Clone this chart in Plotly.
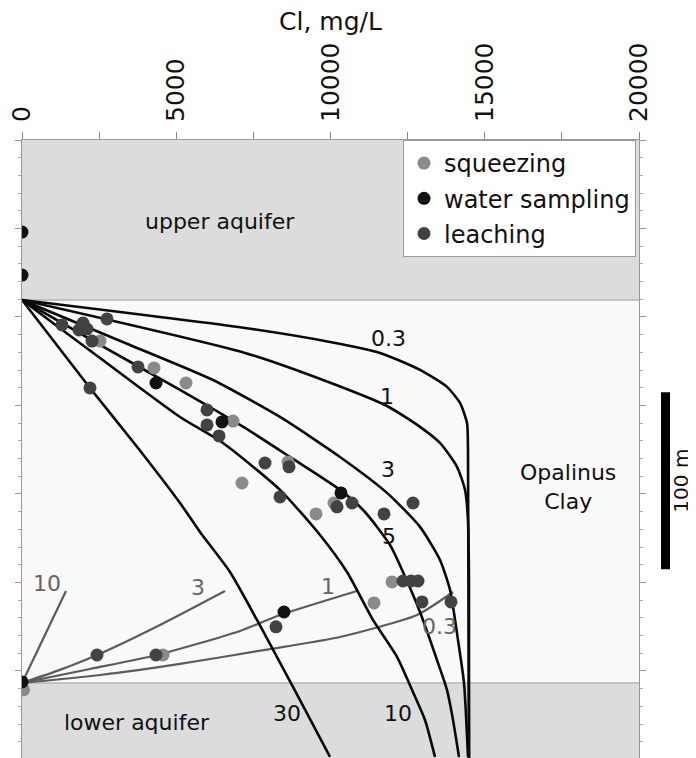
import plotly.graph_objects as go

# chloride profiles through the Opalinus Clay
# x = Cl in mg/L, y = depth in m (0 = top of plot)

# layer boundaries (m)
top_clay = 90.4
base_clay = 306.8
depth_max = 349.2

# x tick labels
cl_ticks = [0, 5000, 10000, 15000, 20000]
cl_ticktext = ["0", "5000", "10000", "15000", "20000"]

# measured data
squeeze_cl = [2528, 4279, 5316, 6840, 7131, 8622, 10113, 9530, 11994, 11410, 4571, 50]
squeeze_d = [113.6, 128.8, 137.3, 158.8, 193.8, 181.9, 205.1, 211.3, 249.7, 261.6, 291.0, 310.7]

water_cl = [0, 0, 0, 4344, 6483, 10340, 8493]
water_d = [52.0, 76.3, 306.2, 137.3, 159.3, 199.4, 266.7]

leach_cl = [1297, 1977, 1848, 2107, 2755, 2269, 3760, 2204, 5997, 5997, 6386, 7877, 8655,
            8363, 10211, 10697, 11734, 12674, 12350, 12609, 12836, 12966, 13906, 8233, 2431, 4344]
leach_d = [104.5, 103.4, 107.3, 106.8, 101.1, 113.6, 128.2, 140.1, 152.5, 161.0, 167.2, 182.5, 184.7,
           201.7, 207.3, 205.1, 211.3, 205.1, 249.2, 249.2, 249.2, 261.0, 261.0, 275.1, 291.0, 291.0]

# model curves, diffusion from the upper aquifer (time in Ma)
top_curves = {
    "0.3": ([0, 7229, 9984, 11605, 12901, 13776, 14198, 14425, 14457, 14489],
            [90.4, 106.2, 114.1, 120.3, 129.9, 139.5, 148.6, 159.9, 175.1, 349.2]),
    "1": ([0, 7229, 9757, 11831, 12901, 13549, 14101, 14360, 14457, 14489, 14489],
          [90.4, 120.3, 135.6, 150.3, 162.1, 171.2, 184.7, 197.7, 214.7, 248.6, 349.2]),
    "3": ([0, 3501, 6191, 8363, 10308, 11831, 12901, 13549, 13874, 14133, 14327, 14457],
          [90.4, 115.8, 135.6, 156.5, 179.1, 199.4, 218.6, 237.3, 254.2, 282.5, 306.8, 348.6]),
    "5": ([0, 2528, 5122, 7229, 8687, 10308, 11118, 11929, 12350, 12901, 13452, 13776, 13971, 14165],
          [90.4, 115.8, 141.2, 162.7, 179.1, 197.7, 210.2, 228.8, 244.1, 266.7, 293.8, 310.7, 327.7, 348.6]),
    "10": ([0, 2528, 5122, 6515, 8363, 9660, 10535, 11378, 12156, 12642, 13063, 13387],
           [90.4, 123.2, 156.5, 171.2, 197.7, 223.2, 244.1, 271.2, 292.1, 310.7, 327.7, 348.6]),
    "30": ([0, 2204, 3760, 5122, 5770, 6742, 7618, 8784, 9984],
           [90.4, 140.1, 174.0, 205.1, 221.5, 244.1, 271.2, 309.0, 348.6]),
}
top_labels = {"0.3": (11864, 111.9), "1": (11831, 145.2), "3": (11864, 185.9),
              "5": (11896, 224.3), "10": (12188, 324.3), "30": (8590, 324.3)}

# model curves, diffusion from the lower aquifer
base_curves = {
    "10": ([0, 713, 1426], [306.8, 280.8, 254.8]),
    "3": ([0, 1232, 2431, 4473, 6580], [306.8, 299.4, 291.0, 274.0, 254.8]),
    "1": ([0, 2204, 4376, 7066, 8363, 10859], [306.8, 298.9, 291.0, 277.4, 268.4, 254.8]),
    "0.3": ([0, 2528, 5122, 7877, 10308, 12804, 13971], [306.8, 302.3, 296.0, 288.1, 280.8, 268.4, 255.4]),
}
base_labels = {"10": (810, 250.8), "3": (5705, 253.1), "1": (9919, 252.5), "0.3": (13517, 275.1)}

FONT = "DejaVu Sans"
fig = go.Figure()

for name, (cl, d) in base_curves.items():
    fig.add_trace(go.Scatter(x=cl, y=d, mode="lines", showlegend=False, hoverinfo="skip",
                             line=dict(color="#5c5c5c", width=2.2, shape="spline", smoothing=0.6)))
for name, (cl, d) in top_curves.items():
    fig.add_trace(go.Scatter(x=cl, y=d, mode="lines", showlegend=False, hoverinfo="skip",
                             line=dict(color="#0a0a0a", width=2.6, shape="spline", smoothing=0.6)))

fig.add_trace(go.Scatter(x=squeeze_cl, y=squeeze_d, mode="markers", name="squeezing", legendgroup="a",
                         marker=dict(size=13, color="#8a8a8a")))
fig.add_trace(go.Scatter(x=water_cl, y=water_d, mode="markers", name="water sampling", legendgroup="b",
                         marker=dict(size=13, color="#111111")))
fig.add_trace(go.Scatter(x=leach_cl, y=leach_d, mode="markers", name="leaching", legendgroup="c",
                         marker=dict(size=13, color="#424242")))

# layers
bands = [(0, top_clay, "#dcdcdc"), (top_clay, base_clay, "#f9f9f9"), (base_clay, depth_max, "#dcdcdc")]
for y0, y1, col in bands:
    fig.add_shape(type="rect", xref="paper", x0=0, x1=1, y0=y0, y1=y1,
                  fillcolor=col, line=dict(width=0), layer="below")
for yb in [top_clay, base_clay]:
    fig.add_shape(type="line", xref="paper", x0=0, x1=1, y0=yb, y1=yb,
                  line=dict(color="#b4b4b4", width=1.5), layer="below")

# scale bar, 100 m
fig.add_shape(type="line", xref="paper", x0=1.043, x1=1.043, y0=142.5, y1=242.5,
              line=dict(color="black", width=9))
fig.add_annotation(xref="paper", x=1.068, y=192.5, text="100 m", textangle=-90, showarrow=False,
                   xanchor="center", yanchor="middle", font=dict(size=20, color="#111", family=FONT))

# layer names
fig.add_annotation(x=6418, y=46.3, text="upper aquifer", showarrow=False,
                   font=dict(size=22, color="#111", family=FONT))
fig.add_annotation(x=17699, y=196.0, text="Opalinus<br>Clay", showarrow=False,
                   font=dict(size=22, color="#111", family=FONT))
fig.add_annotation(x=3728, y=329.4, text="lower aquifer", showarrow=False,
                   font=dict(size=22, color="#111", family=FONT))

# curve labels
for t, (cx, cy) in top_labels.items():
    fig.add_annotation(x=cx, y=cy, text=t, showarrow=False, font=dict(size=22, color="#111", family=FONT))
for t, (cx, cy) in base_labels.items():
    fig.add_annotation(x=cx, y=cy, text=t, showarrow=False, font=dict(size=22, color="#666", family=FONT))

# x axis title
fig.add_annotation(xref="paper", yref="paper", x=0.5, y=1.191, text="Cl, mg/L", showarrow=False,
                   xanchor="center", yanchor="middle", font=dict(size=25, color="#111", family=FONT))

# page body has an 8px margin, so the figure is a bit smaller than the window
fig.update_layout(
    width=688, height=750,
    margin=dict(l=14, r=57, t=132, b=0, autoexpand=False),
    paper_bgcolor="white", plot_bgcolor="#f9f9f9",
    font=dict(family=FONT, color="#111"),
    legend=dict(x=0.6175, y=1, xanchor="left", yanchor="top", bgcolor="white",
                bordercolor="#9a9a9a", borderwidth=1, font=dict(size=24), tracegroupgap=1),
    showlegend=True,
)
fig.update_xaxes(range=[0, 20000], side="top", tickvals=cl_ticks, ticktext=cl_ticktext,
                 tickangle=-90, tickfont=dict(size=25, color="#111"), ticks="outside", ticklen=7,
                 ticklabelstandoff=5, ticklabeloverflow="allow",
                 tickcolor="#888", minor=dict(dtick=2500, ticks="outside", ticklen=7, tickcolor="#888"),
                 showline=True, linecolor="#999", mirror="ticks", showgrid=False, zeroline=False,
                 automargin=False)
fig.update_yaxes(range=[depth_max, 0], showticklabels=False, dtick=50, tick0=0, ticks="outside",
                 ticklen=6, tickcolor="#999",
                 minor=dict(dtick=10, ticks="outside", ticklen=3, tickcolor="#aaa"),
                 showline=True, linecolor="#999", mirror="ticks", showgrid=False, zeroline=False,
                 automargin=False)

fig.write_html("out.html")
